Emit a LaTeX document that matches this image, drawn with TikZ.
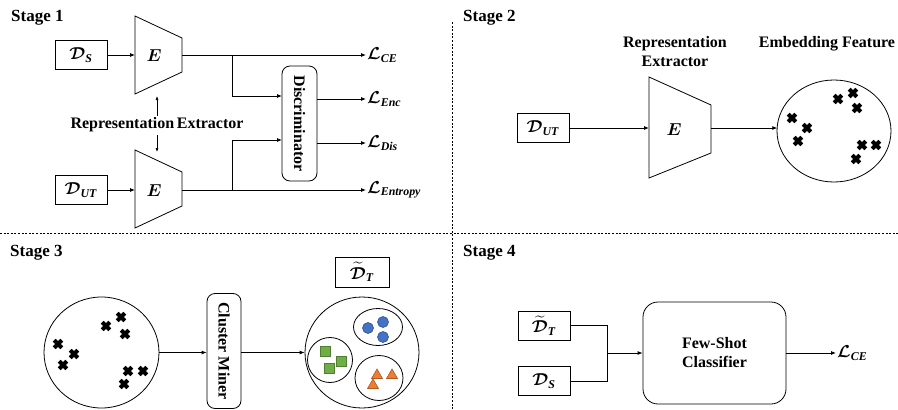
\documentclass[tikz,border=0pt]{standalone}
\usepackage{amsmath,bm}
\usepackage{fontspec}
\setmainfont{Liberation Serif}
\usetikzlibrary{arrows.meta,shapes.geometric}
\newcommand{\sbi}[1]{\textbf{\textit{#1}}}
\newcommand{\tD}{\widetilde{\bm{\mathcal{D}}}}
\begin{document}
\begin{tikzpicture}[x=1pt,y=-1pt,
  ln/.style={line width=0.8pt},
  arr/.style={-{Latex[length=5pt,width=4pt]}, line width=0.8pt},
  box/.style={draw, line width=0.8pt, minimum width=52pt, minimum height=29pt, inner sep=0pt, font=\fontsize{17}{19}\selectfont},
  rbox/.style={draw, line width=0.8pt, rounded corners=8pt, inner sep=0pt},
  stage/.style={anchor=west, inner sep=0pt, font=\fontsize{17}{20}\selectfont\bfseries},
  lbl/.style={align=center, inner sep=0pt, font=\fontsize{16}{19}\selectfont\bfseries},
  loss/.style={anchor=west, inner sep=1pt, font=\fontsize{17}{19}\selectfont},
  etext/.style={font=\fontsize{17}{19}\selectfont},
  dots/.style={line width=0.8pt, dash pattern=on 2pt off 1.6pt},
  xm/.pic={\draw[line width=4pt] (-3.8,-3.8)--(3.8,3.8) (-3.8,3.8)--(3.8,-3.8);},
  bdot/.style={circle, draw={rgb,255:red,47;green,82;blue,143}, fill={rgb,255:red,68;green,114;blue,196}, line width=0.6pt, minimum size=11pt, inner sep=0pt},
  gsq/.style={rectangle, draw={rgb,255:red,80;green,126;blue,50}, fill={rgb,255:red,112;green,173;blue,71}, line width=0.6pt, minimum size=10pt, inner sep=0pt},
  otri/.style={draw={rgb,255:red,174;green,90;blue,33}, fill={rgb,255:red,237;green,125;blue,49}, line width=0.6pt}
]
\useasboundingbox (0,0) rectangle (898,410);

% dividers
\draw[dots] (452,22) -- (452,410);
\draw[dots] (0,233) -- (898,233);

% ---------------- Stage 1 ----------------
\node[stage] (st1) at (11,18) {Stage 1};
\node[box] (ds1) at (81,55) {$\bm{\mathcal{D}}_{\sbi{S}}$};
\node[box] (dut1) at (81,190) {$\bm{\mathcal{D}}_{\sbi{UT}}$};
\draw[ln] (135,16) -- (182,38) -- (182,72) -- (135,94) -- cycle;
\draw[ln] (135,150) -- (182,172) -- (182,206) -- (135,228) -- cycle;
\node[etext] (e1) at (154,56) {$\bm{E}$};
\node[etext] (e2) at (154,191) {$\bm{E}$};
\coordinate (e1in) at (135,55);
\coordinate (e1out) at (182,55);
\coordinate (e2in) at (135,190);
\coordinate (e2out) at (182,190);
\coordinate (b1) at (232,55);
\coordinate (b2) at (232,190);
\node[rbox, minimum width=35pt, minimum height=115pt] (disc) at (299.5,123.5) {};
\node[lbl] (disctxt) at (disc.center) {\rotatebox{-90}{Discriminator}};
\coordinate (d1) at (282,96);
\coordinate (d2) at (282,140);
\coordinate (do1) at (317,99);
\coordinate (do2) at (317,143);
\node[loss] (lce) at (366,55) {$\bm{\mathcal{L}}_{\sbi{CE}}$};
\node[loss] (lenc) at (366,99) {$\bm{\mathcal{L}}_{\sbi{Enc}}$};
\node[loss] (ldis) at (366,143) {$\bm{\mathcal{L}}_{\sbi{Dis}}$};
\node[loss] (lent) at (366,190) {$\bm{\mathcal{L}}_{\sbi{Entropy}}$};
\draw[arr] (ds1) -- (e1in);
\draw[arr] (dut1) -- (e2in);
\draw[arr] (e1out) -- (lce);
\draw[arr] (e2out) -- (lent);
\draw[arr] (b1) |- (d1);
\draw[arr] (b2) |- (d2);
\draw[arr] (do1) -- (lenc);
\draw[arr] (do2) -- (ldis);
\node[lbl] (rep1) at (157,125) {Representation\,Extractor};
\coordinate (e1b) at (157,96);
\coordinate (e2t) at (157,152);
\draw[-{Latex[length=4pt,width=3pt]}, line width=0.6pt] (rep1.north) ++(0,-2) -- (e1b);
\draw[-{Latex[length=4pt,width=3pt]}, line width=0.6pt] (rep1.south) ++(0,3) -- (e2t);

% ---------------- Stage 2 ----------------
\node[stage] (st2) at (463,18) {Stage 2};
\node[lbl] (rep2) at (675,52) {Representation\\Extractor};
\node[lbl] (emb) at (827,44) {Embedding Feature};
\node[box] (dut2) at (543,128) {$\bm{\mathcal{D}}_{\sbi{UT}}$};
\draw[ln] (649,77) -- (711,105) -- (711,153) -- (649,178) -- cycle;
\node[etext] (e3) at (674,130) {$\bm{E}$};
\coordinate (e3in) at (649,128);
\coordinate (e3out) at (711,128);
\node[draw, ellipse, line width=0.8pt, minimum width=114pt, minimum height=102pt, inner sep=0pt] (emc) at (834,131) {};
\coordinate (emcin) at (777.3,128);
\draw[arr] (dut2) -- (e3in);
\draw[arr] (e3out) -- (emcin);
\foreach \p in {(792,118),(807,128),(798,141),(838,99),(853,93),(857,108),(862,145),(876,145),(856,159)}
  \pic at \p {xm};

% ---------------- Stage 3 ----------------
\node[stage] (st3) at (10,253) {Stage 3};
\node[draw, ellipse, line width=0.8pt, minimum width=115pt, minimum height=111pt, inner sep=0pt] (c3a) at (101.5,352.5) {};
\foreach \p in {(58,344),(74,354),(63,365),(106,326),(121,317),(125,334),(128,371),(143,371),(124,384)}
  \pic at \p {xm};
\node[rbox, minimum width=34pt, minimum height=115pt] (cm) at (224,351) {};
\node[lbl] (cmtxt) at (cm.center) {\rotatebox{-90}{Cluster Miner}};
\node[draw, ellipse, line width=0.8pt, minimum width=114pt, minimum height=111pt, inner sep=0pt] (c3b) at (362,352.5) {};
\node[box, minimum width=54pt, minimum height=30pt] (dt3) at (362,272) {$\tD_{\sbi{T}}$};
\draw[arr] (c3a.east) -- (cm.west |- c3a.east);
\draw[arr] (cm.east |- c3b.west) -- (c3b.west);
\node[draw, ellipse, line width=0.8pt, minimum width=49pt, minimum height=37pt, inner sep=0pt] (cb) at (378,327) {};
\node[draw, ellipse, line width=0.8pt, minimum width=45pt, minimum height=45pt, inner sep=0pt] (cg) at (330,360) {};
\node[draw, ellipse, line width=0.8pt, minimum width=48pt, minimum height=45pt, inner sep=0pt] (co) at (379,378) {};
\node[bdot] (bd1) at (368,328) {};
\node[bdot] (bd2) at (383,322) {};
\node[bdot] (bd3) at (383,337) {};
\node[gsq] (gs1) at (325,351) {};
\node[gsq] (gs2) at (341,361) {};
\node[gsq] (gs3) at (329,368) {};
\foreach \x/\y in {377/374,392/374,373/384}
  \draw[otri] (\x-5.5,\y+4.5) -- (\x,\y-5) -- (\x+5.5,\y+4.5) -- cycle;

% ---------------- Stage 4 ----------------
\node[stage] (st4) at (463,253) {Stage 4};
\node[box] (dt4) at (544,325.5) {$\tD_{\sbi{T}}$};
\node[box] (ds4) at (544,381) {$\bm{\mathcal{D}}_{\sbi{S}}$};
\node[draw, line width=0.8pt, rounded corners=15pt, minimum width=143pt, minimum height=102pt, inner sep=0pt, align=center, font=\fontsize{16}{19}\selectfont\bfseries] (fsc) at (714.5,353) {Few-Shot\\Classifier};
\coordinate (j4) at (607,353);
\draw[ln] (dt4.east) -| (j4);
\draw[ln] (ds4.east) -| (j4);
\draw[arr] (j4) -- (fsc.west);
\node[loss] (lce4) at (836,353) {$\bm{\mathcal{L}}_{\sbi{CE}}$};
\draw[arr] (fsc.east) -- (lce4);
\end{tikzpicture}
\end{document}
